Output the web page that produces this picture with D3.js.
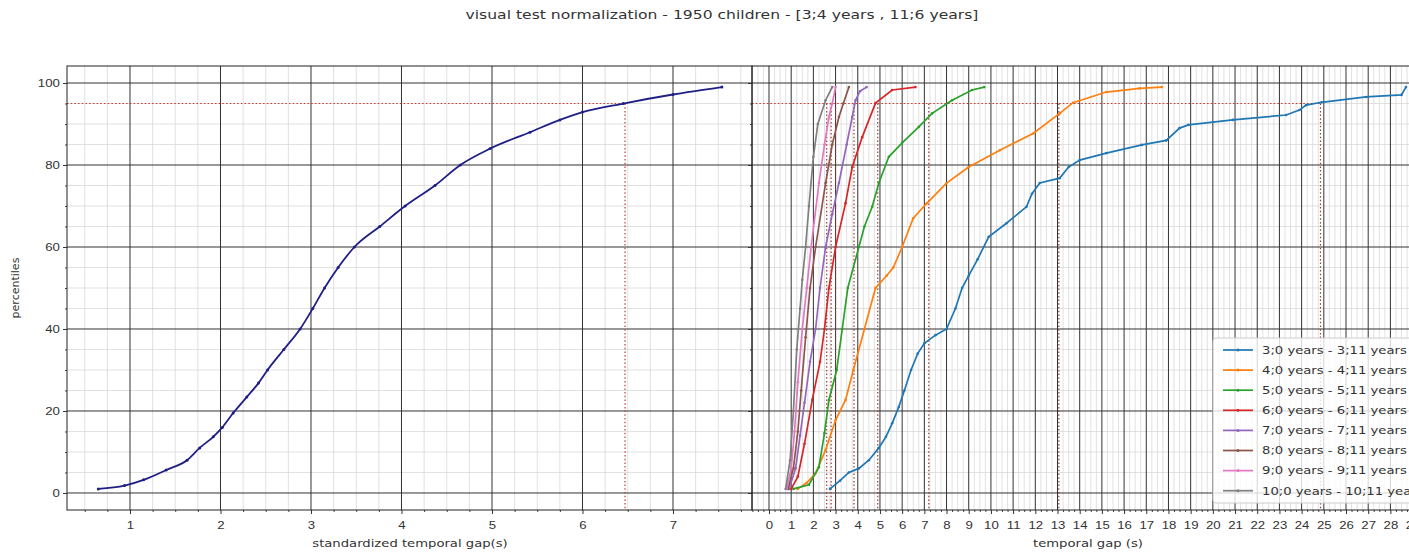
<!DOCTYPE html>
<html>
<head>
<meta charset="utf-8">
<script src="https://cdn.jsdelivr.net/npm/d3@7"></script>
<style>
body { margin: 0; background: #fff; overflow: hidden; }
svg { display: block; font-family: "DejaVu Sans", sans-serif; }
</style>
</head>
<body>
<div id="chart"></div>
<script>
// ---- data ----
const titleText = "visual test normalization - 1950 children - [3;4 years , 11;6 years]";
const leftLabel = "standardized temporal gap(s)";
const rightLabel = "temporal gap (s)";
const yLabel = "percentiles";

const yTicks = [0, 20, 40, 60, 80, 100];
const leftTicks = [1, 2, 3, 4, 5, 6, 7];
const rightTicks = d3.range(0, 31);

// standardized curve: [standardized gap, percentile]
const standardized = [[0.65,1],[0.94,1.8],[1.15,3.2],[1.4,5.6],[1.63,8],[1.77,11],[1.92,13.7],[2.02,16],
  [2.14,19.5],[2.29,23.4],[2.42,26.8],[2.52,30],[2.7,35],[2.88,40],[3.02,45],[3.15,50],[3.3,55],[3.48,60],
  [3.76,65],[4.04,70],[4.37,75],[4.65,80],[4.98,84],[5.42,88],[5.75,91],[6.0,92.9],[6.45,95],[7.0,97.2],[7.54,99]];
const standardized95 = 6.47;

const groupNames = ["3;0 years - 3;11 years", "4;0 years - 4;11 years", "5;0 years - 5;11 years",
  "6;0 years - 6;11 years", "7;0 years - 7;11 years", "8;0 years - 8;11 years",
  "9;0 years - 9;11 years", "10;0 years - 10;11 years"];
const groupColors = ["#1f77b4", "#ff7f0e", "#2ca02c", "#d62728", "#9467bd", "#8c564b", "#e377c2", "#7f7f7f"];

// [temporal gap (s), percentile]
const age3 = [[2.75,1],[3.2,3],[3.6,5],[4.05,6],[4.5,8],[4.95,11],[5.27,13.7],[5.55,17],[5.85,21],[6.1,25],
  [6.4,30],[6.7,34],[7.0,36.5],[7.5,38.5],[8.0,40],[8.4,45],[8.7,50],[9.0,53],[9.4,57],[9.9,62.5],[10.7,65.8],
  [11.6,69.8],[11.85,73],[12.2,75.6],[13.1,76.8],[13.5,79.5],[14.0,81.2],[15.2,82.9],[16.8,84.9],[17.9,86],
  [18.5,89],[18.9,89.8],[20.9,91],[23.3,92.2],[23.9,93.4],[24.2,94.6],[24.9,95.3],[26.9,96.6],[28.5,97.1],[28.7,99]];
const age4 = [[1.3,1],[1.7,2.5],[2.1,4.8],[2.55,10.5],[3.0,17.8],[3.45,22.7],[3.8,30],[4.3,40],[4.8,50],[5.3,53],
  [5.6,55],[6.0,60],[6.5,67],[7.1,70.6],[8.0,75.6],[9.0,79.5],[10.4,83.6],[11.9,87.7],[13.1,92.6],[13.7,95.2],
  [15.2,97.8],[16.7,98.7],[17.7,99]];
const age5 = [[1.1,1],[1.8,2],[2.25,6.3],[2.5,14.6],[2.7,22.7],[3.05,30],[3.3,40],[3.55,50],[4.05,60],[4.3,65],
  [4.65,69.8],[4.95,75.6],[5.4,82],[6.0,85.4],[6.75,89.3],[7.35,92.6],[8.25,95.8],[9.15,98.3],[9.7,99]];
const age6 = [[1.0,1],[1.3,4],[1.6,12],[1.95,22.7],[2.3,32],[2.5,40],[2.7,50],[3.0,60],[3.45,70.7],[3.75,79.5],
  [4.2,86.8],[4.8,95.1],[5.55,98.3],[6.6,99]];
const age7 = [[0.9,1],[1.2,6],[1.4,14],[1.6,22],[1.85,32],[2.1,40],[2.3,50],[2.55,60],[2.85,68],[3.15,75.6],
  [3.5,85],[3.75,91.7],[3.9,95.8],[4.1,98],[4.4,99]];
const age8 = [[0.85,1],[1.1,6],[1.3,15],[1.45,25],[1.65,38],[1.85,50],[2.1,60],[2.55,75.6],[2.85,85],
  [3.15,91.7],[3.35,95],[3.6,99]];
const age9 = [[0.8,1],[1.0,6],[1.15,15],[1.3,27],[1.5,40],[1.7,50],[1.9,60],[2.25,75.6],[2.5,85],[2.7,91.7],
  [2.85,95],[3.0,99]];
const age10 = [[0.75,1],[0.95,8],[1.1,20],[1.25,35],[1.4,45],[1.5,52],[1.65,60],[1.8,70],[2.0,82],[2.2,90],
  [2.55,95.8],[2.85,99]];
const groups = [age3, age4, age5, age6, age7, age8, age9, age10];
// 95th percentile markers per group
const groups95 = [24.85, 13.06, 7.2, 4.9, 3.83, 3.0, 2.8, 2.6];
const level95 = 95;

// ---- layout ----
const width = 1409, height = 553;
const plotTop = 66, plotBottom = 510;
const stretch = "scale(1.2,1)"; // the reference text is drawn a bit wide

const svg = d3.select("#chart").append("svg")
  .attr("width", width).attr("height", height);

const y = d3.scaleLinear().domain([-4.15, 104.15]).range([plotBottom, plotTop]);
const xL = d3.scaleLinear().domain([0.304, 7.873]).range([67, 752]);
const xR = d3.scaleLinear().domain([-0.766, 30.1]).range([752, 1437]);

const yMinor = d3.range(0, 105, 5).filter(v => v % 20 !== 0);

function drawPanel(x, majors, clipId, showYLabels) {
  const [x0, x1] = x.range();
  const [d0, d1] = x.domain();
  const xMinor = d3.range(Math.ceil(d0 * 4) / 4, d1, 0.25).filter(v => Math.abs(v - Math.round(v)) > 1e-6);
  const g = svg.append("g");

  g.append("clipPath").attr("id", clipId)
    .append("rect").attr("x", x0).attr("y", plotTop).attr("width", x1 - x0).attr("height", plotBottom - plotTop);

  const grid = g.append("g").attr("clip-path", `url(#${clipId})`);
  // minor grid
  grid.selectAll(".vminor").data(xMinor).enter().append("line")
    .attr("x1", d => x(d)).attr("x2", d => x(d)).attr("y1", plotTop).attr("y2", plotBottom)
    .attr("stroke", "#d4d4d4").attr("stroke-width", 0.7);
  grid.selectAll(".hminor").data(yMinor).enter().append("line")
    .attr("x1", x0).attr("x2", x1).attr("y1", d => y(d)).attr("y2", d => y(d))
    .attr("stroke", "#d4d4d4").attr("stroke-width", 0.7);
  // major grid
  grid.selectAll(".vmajor").data(majors).enter().append("line")
    .attr("x1", d => x(d)).attr("x2", d => x(d)).attr("y1", plotTop).attr("y2", plotBottom)
    .attr("stroke", "#333").attr("stroke-width", 1);
  grid.selectAll(".hmajor").data(yTicks).enter().append("line")
    .attr("x1", x0).attr("x2", x1).attr("y1", d => y(d)).attr("y2", d => y(d))
    .attr("stroke", "#333").attr("stroke-width", 1);

  // bottom axis
  const ax = g.append("g").attr("transform", `translate(0,${plotBottom})`)
    .call(d3.axisBottom(x).tickValues(majors).tickSize(4).tickSizeOuter(0).tickFormat(d3.format("d")));
  ax.select(".domain").remove();
  ax.selectAll("text").attr("font-size", 11).attr("fill", "#333").attr("dy", "1.05em").attr("transform", stretch);
  ax.selectAll("line").attr("stroke", "#333");
  const axm = g.append("g").attr("transform", `translate(0,${plotBottom})`)
    .call(d3.axisBottom(x).tickValues(xMinor).tickSize(2).tickFormat(""));
  axm.select(".domain").remove();
  axm.selectAll("line").attr("stroke", "#444");

  // left ticks
  const ay = g.append("g").attr("transform", `translate(${x0},0)`)
    .call(d3.axisLeft(y).tickValues(yTicks).tickSize(4).tickSizeOuter(0));
  ay.select(".domain").remove();
  ay.selectAll("line").attr("stroke", "#333");
  if (showYLabels) ay.selectAll("text").attr("font-size", 11).attr("fill", "#333").attr("x", -6).attr("transform", stretch);
  else ay.selectAll("text").remove();
  const aym = g.append("g").attr("transform", `translate(${x0},0)`)
    .call(d3.axisLeft(y).tickValues(yMinor).tickSize(2).tickFormat(""));
  aym.select(".domain").remove();
  aym.selectAll("line").attr("stroke", "#444");

  return { g, grid };
}

const left = drawPanel(xL, leftTicks, "clipL", true);
const right = drawPanel(xR, rightTicks, "clipR", false);

const dotted = "1.5,2.2";
const refColor = "#c8392f";

// left panel: 95th percentile reference
left.grid.append("line")
  .attr("x1", 67).attr("x2", xL(standardized95)).attr("y1", y(level95)).attr("y2", y(level95))
  .attr("stroke", refColor).attr("stroke-width", 1.2).attr("stroke-dasharray", dotted);
left.grid.append("line")
  .attr("x1", xL(standardized95)).attr("x2", xL(standardized95)).attr("y1", y(level95)).attr("y2", plotBottom)
  .attr("stroke", refColor).attr("stroke-width", 1.2).attr("stroke-dasharray", dotted);

const lineL = d3.line().x(d => xL(d[0])).y(d => y(d[1])).curve(d3.curveMonotoneX);
left.grid.append("path").datum(standardized)
  .attr("d", lineL).attr("fill", "none").attr("stroke", "#1f1f86").attr("stroke-width", 1.8);
left.grid.selectAll(".pt").data(standardized).enter().append("circle")
  .attr("cx", d => xL(d[0])).attr("cy", d => y(d[1])).attr("r", 1.5).attr("fill", "#1f1f86");

// right panel: 95th percentile references
right.grid.append("line")
  .attr("x1", 752).attr("x2", xR(d3.max(groups95))).attr("y1", y(level95)).attr("y2", y(level95))
  .attr("stroke", refColor).attr("stroke-width", 1.2).attr("stroke-dasharray", dotted);
right.grid.selectAll(".v95").data(groups95).enter().append("line")
  .attr("x1", d => xR(d)).attr("x2", d => xR(d)).attr("y1", y(level95)).attr("y2", plotBottom)
  .attr("stroke", "#9a3a32").attr("stroke-width", 1.2).attr("stroke-dasharray", dotted);

const lineR = d3.line().x(d => xR(d[0])).y(d => y(d[1]));
groups.forEach((data, i) => {
  right.grid.append("path").datum(data)
    .attr("d", lineR).attr("fill", "none").attr("stroke", groupColors[i]).attr("stroke-width", 1.7);
  right.grid.selectAll(".pt" + i).data(data).enter().append("circle")
    .attr("cx", d => xR(d[0])).attr("cy", d => y(d[1])).attr("r", 1.3).attr("fill", groupColors[i]);
});

// frames
svg.append("rect").attr("x", 67).attr("y", plotTop).attr("width", 752 - 67).attr("height", plotBottom - plotTop)
  .attr("fill", "none").attr("stroke", "#222").attr("stroke-width", 1);
svg.append("rect").attr("x", 752).attr("y", plotTop).attr("width", 1437 - 752).attr("height", plotBottom - plotTop)
  .attr("fill", "none").attr("stroke", "#222").attr("stroke-width", 1);

// legend
const legend = svg.append("g").attr("transform", "translate(1213,338)");
legend.append("rect").attr("width", 230).attr("height", 165).attr("rx", 3)
  .attr("fill", "#fff").attr("fill-opacity", 0.8).attr("stroke", "#cccccc");
const items = legend.selectAll(".item").data(groupNames).enter().append("g")
  .attr("transform", (d, i) => `translate(0,${12 + i * 20.1})`);
items.append("line").attr("x1", 10).attr("x2", 40).attr("stroke", (d, i) => groupColors[i]).attr("stroke-width", 1.7);
items.append("circle").attr("cx", 25).attr("r", 1.5).attr("fill", (d, i) => groupColors[i]);
items.append("text").attr("transform", "translate(49,0) " + stretch).attr("dy", "0.35em")
  .attr("font-size", 11).attr("fill", "#333").text(d => d);

// labels
svg.append("text").attr("transform", "translate(722,19) scale(1.3,1)").attr("text-anchor", "middle")
  .attr("font-size", 12).attr("fill", "#333").text(titleText);
svg.append("text").attr("transform", "translate(410,547) " + stretch).attr("text-anchor", "middle")
  .attr("font-size", 11).attr("fill", "#333").text(leftLabel);
svg.append("text").attr("transform", "translate(1088,547) " + stretch).attr("text-anchor", "middle")
  .attr("font-size", 11).attr("fill", "#333").text(rightLabel);
svg.append("text").attr("transform", "translate(19,288) rotate(-90)").attr("text-anchor", "middle")
  .attr("font-size", 11).attr("fill", "#333").text(yLabel);
</script>
</body>
</html>
